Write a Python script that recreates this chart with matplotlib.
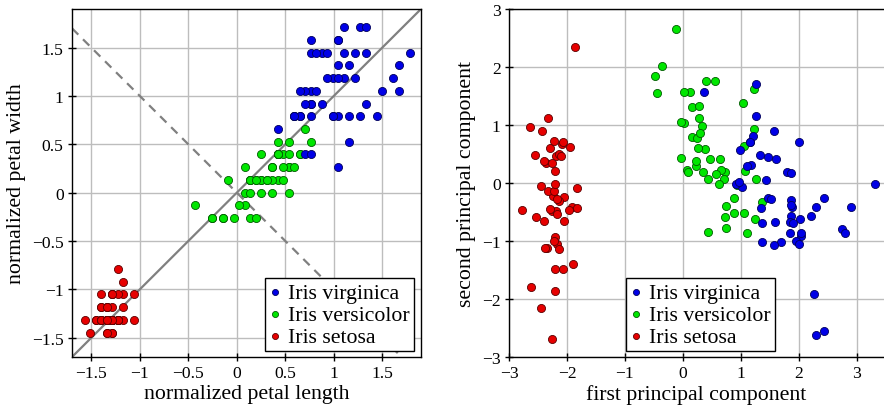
import numpy as np
import matplotlib
matplotlib.use("Agg")
import matplotlib.pyplot as plt

plt.rcParams['font.family'] = ['Liberation Serif', 'DejaVu Serif']

# Fisher's iris data (setosa 0-49, versicolor 50-99, virginica 100-149)
sepal_length = [5.1,4.9,4.7,4.6,5.0,5.4,4.6,5.0,4.4,4.9,5.4,4.8,4.8,4.3,5.8,5.7,5.4,5.1,5.7,5.1,
                5.4,5.1,4.6,5.1,4.8,5.0,5.0,5.2,5.2,4.7,4.8,5.4,5.2,5.5,4.9,5.0,5.5,4.9,4.4,5.1,
                5.0,4.5,4.4,5.0,5.1,4.8,5.1,4.6,5.3,5.0,
                7.0,6.4,6.9,5.5,6.5,5.7,6.3,4.9,6.6,5.2,5.0,5.9,6.0,6.1,5.6,6.7,5.6,5.8,6.2,5.6,
                5.9,6.1,6.3,6.1,6.4,6.6,6.8,6.7,6.0,5.7,5.5,5.5,5.8,6.0,5.4,6.0,6.7,6.3,5.6,5.5,
                5.5,6.1,5.8,5.0,5.6,5.7,5.7,6.2,5.1,5.7,
                6.3,5.8,7.1,6.3,6.5,7.6,4.9,7.3,6.7,7.2,6.5,6.4,6.8,5.7,5.8,6.4,6.5,7.7,7.7,6.0,
                6.9,5.6,7.7,6.3,6.7,7.2,6.2,6.1,6.4,7.2,7.4,7.9,6.4,6.3,6.1,7.7,6.3,6.4,6.0,6.9,
                6.7,6.9,5.8,6.8,6.7,6.7,6.3,6.5,6.2,5.9]
sepal_width = [3.5,3.0,3.2,3.1,3.6,3.9,3.4,3.4,2.9,3.1,3.7,3.4,3.0,3.0,4.0,4.4,3.9,3.5,3.8,3.8,
               3.4,3.7,3.6,3.3,3.4,3.0,3.4,3.5,3.4,3.2,3.1,3.4,4.1,4.2,3.1,3.2,3.5,3.6,3.0,3.4,
               3.5,2.3,3.2,3.5,3.8,3.0,3.8,3.2,3.7,3.3,
               3.2,3.2,3.1,2.3,2.8,2.8,3.3,2.4,2.9,2.7,2.0,3.0,2.2,2.9,2.9,3.1,3.0,2.7,2.2,2.5,
               3.2,2.8,2.5,2.8,2.9,3.0,2.8,3.0,2.9,2.6,2.4,2.4,2.7,2.7,3.0,3.4,3.1,2.3,3.0,2.5,
               2.6,3.0,2.6,2.3,2.7,3.0,2.9,2.9,2.5,2.8,
               3.3,2.7,3.0,2.9,3.0,3.0,2.5,2.9,2.5,3.6,3.2,2.7,3.0,2.5,2.8,3.2,3.0,3.8,2.6,2.2,
               3.2,2.8,2.8,2.7,3.3,3.2,2.8,3.0,2.8,3.0,2.8,3.8,2.8,2.8,2.6,3.0,3.4,3.1,3.0,3.1,
               3.1,3.1,2.7,3.2,3.3,3.0,2.5,3.0,3.4,3.0]
petal_length = [1.4,1.4,1.3,1.5,1.4,1.7,1.4,1.5,1.4,1.5,1.5,1.6,1.4,1.1,1.2,1.5,1.3,1.4,1.7,1.5,
                1.7,1.5,1.0,1.7,1.9,1.6,1.6,1.5,1.4,1.6,1.6,1.5,1.5,1.4,1.5,1.2,1.3,1.4,1.3,1.5,
                1.3,1.3,1.3,1.6,1.9,1.4,1.6,1.4,1.5,1.4,
                4.7,4.5,4.9,4.0,4.6,4.5,4.7,3.3,4.6,3.9,3.5,4.2,4.0,4.7,3.6,4.4,4.5,4.1,4.5,3.9,
                4.8,4.0,4.9,4.7,4.3,4.4,4.8,5.0,4.5,3.5,3.8,3.7,3.9,5.1,4.5,4.5,4.7,4.4,4.1,4.0,
                4.4,4.6,4.0,3.3,4.2,4.2,4.2,4.3,3.0,4.1,
                6.0,5.1,5.9,5.6,5.8,6.6,4.5,6.3,5.8,6.1,5.1,5.3,5.5,5.0,5.1,5.3,5.5,6.7,6.9,5.0,
                5.7,4.9,6.7,4.9,5.7,6.0,4.8,4.9,5.6,5.8,6.1,6.4,5.6,5.1,5.6,6.1,5.6,5.5,4.8,5.4,
                5.6,5.1,5.1,5.9,5.7,5.2,5.0,5.2,5.4,5.1]
petal_width = [0.2,0.2,0.2,0.2,0.2,0.4,0.3,0.2,0.2,0.1,0.2,0.2,0.1,0.1,0.2,0.4,0.4,0.3,0.3,0.3,
               0.2,0.4,0.2,0.5,0.2,0.2,0.4,0.2,0.2,0.2,0.2,0.4,0.1,0.2,0.2,0.2,0.2,0.1,0.2,0.2,
               0.3,0.3,0.2,0.6,0.4,0.3,0.2,0.2,0.2,0.2,
               1.4,1.5,1.5,1.3,1.5,1.3,1.6,1.0,1.3,1.4,1.0,1.5,1.0,1.4,1.3,1.4,1.5,1.0,1.5,1.1,
               1.8,1.3,1.5,1.2,1.3,1.4,1.4,1.7,1.5,1.0,1.1,1.0,1.2,1.6,1.5,1.6,1.5,1.3,1.3,1.3,
               1.2,1.4,1.2,1.0,1.3,1.2,1.3,1.3,1.1,1.3,
               2.5,1.9,2.1,1.8,2.2,2.1,1.7,1.8,1.8,2.5,2.0,1.9,2.1,2.0,2.4,2.3,1.8,2.2,2.3,1.5,
               2.3,2.0,2.0,1.8,2.1,1.8,1.8,1.8,2.1,1.6,1.9,2.0,2.2,1.5,1.4,2.3,2.4,1.8,1.8,2.1,
               2.4,2.3,1.9,2.3,2.5,2.3,1.9,2.0,2.3,1.8]

species = ['Iris setosa', 'Iris versicolor', 'Iris virginica']
species_count = [50, 50, 50]
face_colors = ['#e60000', '#00e600', '#0000e6']
edge_colors = ['#5a0000', '#005a00', '#00005a']

left_ticks = [-1.5, -1, -0.5, 0, 0.5, 1, 1.5]
left_ticklabels = ['\u22121.5', '\u22121', '\u22120.5', '0', '0.5', '1', '1.5']
right_ticks = [-3, -2, -1, 0, 1, 2, 3]
right_ticklabels = ['\u22123', '\u22122', '\u22121', '0', '1', '2', '3']

# ---- computations ----
X = np.column_stack([sepal_length, sepal_width, petal_length, petal_width]).astype(float)
Z = (X - X.mean(axis=0)) / X.std(axis=0)
U, S, Vt = np.linalg.svd(Z, full_matrices=False)
pcs = Z @ Vt[:2].T
bounds = np.cumsum([0] + species_count)
groups = [slice(bounds[i], bounds[i + 1]) for i in range(3)]
if pcs[groups[2], 0].mean() < 0:
    pcs[:, 0] *= -1
if pcs[groups[1], 1].mean() < 0:
    pcs[:, 1] *= -1

W, H = 884, 410
fig = plt.figure(figsize=(W / 100, H / 100), dpi=100)
axL = fig.add_axes([72 / W, (H - 358) / H, 349 / W, 348 / H])
axR = fig.add_axes([509 / W, (H - 358) / H, 375 / W, 348 / H])

tick_fs = 12.6
label_fs = 15.7
grid_c = '#bdbdbd'
line_c = '#808080'

def style(ax):
    ax.set_axisbelow(True)
    ax.grid(True, color=grid_c, linewidth=1.0)
    for sp in ax.spines.values():
        sp.set_linewidth(1.0)
        sp.set_color('black')
    ax.tick_params(direction='inout', length=6, width=1.0, labelsize=tick_fs,
                   pad=3, top=False, right=False)

# left panel
lim = (-1.7, 1.9)
axL.set_xlim(lim)
axL.set_ylim(lim)
axL.plot([-1.7, 1.9], [-1.7, 1.9], color=line_c, lw=1.6, zorder=1.5)
axL.plot([-1.7, 1.7], [1.7, -1.7], color=line_c, lw=1.6, ls=(0, (4, 3)), zorder=1.5)
for i, g in enumerate(groups):
    axL.scatter(Z[g, 2], Z[g, 3], s=34, c=face_colors[i], edgecolors=edge_colors[i],
                linewidths=0.6, label=species[i], zorder=3)
style(axL)
axL.set_xticks(left_ticks)
axL.set_xticklabels(left_ticklabels)
axL.set_yticks(left_ticks)
axL.set_yticklabels(left_ticklabels)
axL.set_xlabel('normalized petal length', fontsize=label_fs, labelpad=2)
axL.set_ylabel('normalized petal width', fontsize=label_fs, labelpad=4)

# right panel
axR.set_xlim(-3, 3.47)
axR.set_ylim(-3, 3)
for i, g in enumerate(groups):
    axR.scatter(pcs[g, 0], pcs[g, 1], s=34, c=face_colors[i], edgecolors=edge_colors[i],
                linewidths=0.6, label=species[i], zorder=3)
style(axR)
axR.spines['right'].set_visible(False)
axR.set_xticks(right_ticks)
axR.set_xticklabels(right_ticklabels)
axR.set_yticks(right_ticks)
axR.set_yticklabels(right_ticklabels)
axR.set_xlabel('first principal component', fontsize=label_fs, labelpad=2)
axR.set_ylabel('second principal component', fontsize=label_fs, labelpad=4)

def legend(ax, **kw):
    h, l = ax.get_legend_handles_labels()
    leg = ax.legend(h[::-1], l[::-1], fontsize=label_fs, markerscale=0.75,
                    handlelength=0.5, handletextpad=0.35, borderpad=0.2,
                    labelspacing=0.08, fancybox=False, framealpha=1,
                    edgecolor='black', borderaxespad=0, **kw)
    leg.get_frame().set_linewidth(1.0)
    leg.set_zorder(5)

legend(axL, loc='lower right', bbox_to_anchor=(0.98, 0.017))
legend(axR, loc='lower left', bbox_to_anchor=(0.312, 0.017))

fig.savefig('out.png', dpi=100)
